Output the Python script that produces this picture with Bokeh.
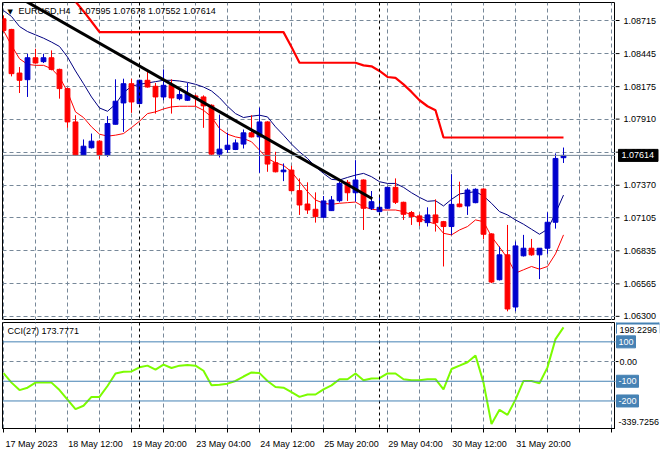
from bokeh.plotting import figure
from bokeh.layouts import column, row
from bokeh.models import (FixedTicker, LinearAxis, Range1d, Span, Label,
                          ColumnDataSource)
from bokeh.core.properties import value
from bokeh.embed import file_html
from bokeh.resources import INLINE

NAN = float("nan")

# ---------------- data ----------------
bars = list(range(71))
opens = [1.08729, 1.08642, 1.08286, 1.08232, 1.08411, 1.08379, 1.08411, 1.08316, 1.08159, 1.07887,
         1.07616, 1.07676, 1.07730, 1.07616, 1.07868, 1.08042, 1.08199, 1.08037, 1.08227, 1.08178,
         1.08091, 1.08186, 1.08077, 1.08064, 1.08099, 1.08091, 1.08023, 1.07624, 1.07662, 1.07662,
         1.07706, 1.07798, 1.07765, 1.07887, 1.07554, 1.07480, 1.07494, 1.07326, 1.07217, 1.07174,
         1.07109, 1.07163, 1.07244, 1.07394, 1.07309, 1.07413, 1.07182, 1.07155, 1.07182, 1.07353,
         1.07231, 1.07147, 1.07120, 1.07065, 1.07128, 1.07073, 1.07033, 1.07217, 1.07201, 1.07228,
         1.07339, 1.06973, 1.06599, 1.06802, 1.06376, 1.06794, 1.06856, 1.06802, 1.06856, 1.07068,
         1.07595]
highs = [1.08756, 1.08647, 1.08335, 1.08444, 1.08484, 1.08444, 1.08471, 1.08322, 1.08167, 1.07942,
         1.07744, 1.07792, 1.07738, 1.07934, 1.08235, 1.08240, 1.08240, 1.08232, 1.08303, 1.08205,
         1.08316, 1.08235, 1.08159, 1.08205, 1.08110, 1.08104, 1.08031, 1.07947, 1.07801, 1.07744,
         1.07825, 1.07942, 1.08004, 1.07893, 1.07643, 1.07548, 1.07529, 1.07426, 1.07394, 1.07312,
         1.07282, 1.07282, 1.07399, 1.07413, 1.07575, 1.07418, 1.07323, 1.07290, 1.07358, 1.07426,
         1.07236, 1.07160, 1.07133, 1.07190, 1.07255, 1.07079, 1.07461, 1.07399, 1.07345, 1.07345,
         1.07345, 1.06978, 1.06870, 1.07046, 1.06911, 1.06965, 1.06932, 1.06856, 1.07149, 1.07630,
         1.07678]
lows = [1.08620, 1.08259, 1.08123, 1.08091, 1.08362, 1.08368, 1.08308, 1.08077, 1.07839, 1.07611,
        1.07611, 1.07670, 1.07581, 1.07602, 1.07866, 1.07806, 1.07961, 1.08031, 1.08167, 1.07955,
        1.08064, 1.07955, 1.08064, 1.08058, 1.08015, 1.07839, 1.07616, 1.07597, 1.07635, 1.07657,
        1.07670, 1.07760, 1.07472, 1.07480, 1.07475, 1.07404, 1.07320, 1.07128, 1.07136, 1.07065,
        1.07100, 1.07160, 1.07231, 1.07242, 1.07236, 1.07005, 1.07168, 1.07149, 1.07177, 1.07217,
        1.07087, 1.07046, 1.07038, 1.07033, 1.06992, 1.06707, 1.06965, 1.07190, 1.07128, 1.07223,
        1.06930, 1.06571, 1.06593, 1.06341, 1.06341, 1.06788, 1.06794, 1.06604, 1.06810, 1.07016,
        1.07552]
closes = [1.08634, 1.08281, 1.08227, 1.08411, 1.08368, 1.08411, 1.08316, 1.08159, 1.07887, 1.07616,
          1.07689, 1.07730, 1.07616, 1.07874, 1.08056, 1.08199, 1.08050, 1.08227, 1.08172, 1.08091,
          1.08186, 1.08083, 1.08110, 1.08118, 1.08085, 1.08018, 1.07624, 1.07665, 1.07697, 1.07716,
          1.07798, 1.07765, 1.07887, 1.07543, 1.07480, 1.07494, 1.07326, 1.07209, 1.07168, 1.07114,
          1.07242, 1.07250, 1.07385, 1.07309, 1.07413, 1.07182, 1.07236, 1.07190, 1.07353, 1.07231,
          1.07133, 1.07114, 1.07073, 1.07128, 1.07065, 1.07033, 1.07214, 1.07195, 1.07331, 1.07337,
          1.06970, 1.06580, 1.06802, 1.06360, 1.06875, 1.06856, 1.06802, 1.06856, 1.07068, 1.07589,
          1.07614]
ma_upper = [1.08796, 1.08748, 1.08666, 1.08625, 1.08598, 1.08571, 1.08539, 1.08503, 1.08417, 1.08303,
            1.08199, 1.08091, 1.08001, 1.07974, 1.08031, 1.08126, 1.08178, 1.08194, 1.08205, 1.08216,
            1.08227, 1.08227, 1.08221, 1.08210, 1.08194, 1.08172, 1.08140, 1.08085, 1.08015, 1.07955,
            1.07923, 1.07934, 1.07942, 1.07928, 1.07847, 1.07779, 1.07706, 1.07643, 1.07589, 1.07521,
            1.07467, 1.07418, 1.07413, 1.07434, 1.07453, 1.07467, 1.07440, 1.07399, 1.07385, 1.07385,
            1.07353, 1.07309, 1.07271, 1.07239, 1.07244, 1.07201, 1.07255, 1.07299, 1.07309, 1.07318,
            1.07282, 1.07223, 1.07155, 1.07128, 1.07087, 1.07052, 1.07011, 1.06970, 1.07011, 1.07141,
            1.07290]
ma_lower = [1.08634, 1.08511, 1.08403, 1.08357, 1.08349, 1.08349, 1.08322, 1.08254, 1.08132, 1.07969,
            1.07923, 1.07847, 1.07787, 1.07771, 1.07779, 1.07792, 1.07841, 1.07893, 1.07955, 1.07969,
            1.07993, 1.08010, 1.08015, 1.08015, 1.08015, 1.07982, 1.07928, 1.07833, 1.07787, 1.07765,
            1.07752, 1.07725, 1.07657, 1.07589, 1.07554, 1.07532, 1.07480, 1.07399, 1.07318, 1.07250,
            1.07223, 1.07214, 1.07223, 1.07228, 1.07233, 1.07195, 1.07174, 1.07168, 1.07168, 1.07168,
            1.07155, 1.07128, 1.07100, 1.07073, 1.07054, 1.06978, 1.06965, 1.07005, 1.07033, 1.07087,
            1.07073, 1.06951, 1.06864, 1.06775, 1.06653, 1.06680, 1.06707, 1.06685, 1.06707, 1.06810,
            1.06965]
stop_line = [NAN, NAN, NAN, NAN, NAN, NAN, NAN, NAN, 1.08959, 1.08870,
             1.08791, 1.08707, 1.08620, 1.08620, 1.08620, 1.08620, 1.08620, 1.08620, 1.08620, 1.08620,
             1.08620, 1.08620, 1.08620, 1.08620, 1.08620, 1.08620, 1.08620, 1.08620, 1.08620, 1.08620,
             1.08620, 1.08620, 1.08620, 1.08620, 1.08620, 1.08620, 1.08498, 1.08370, 1.08370, 1.08370,
             1.08370, 1.08370, 1.08370, 1.08370, 1.08370, 1.08349, 1.08341, 1.08303, 1.08254, 1.08246,
             1.08194, 1.08132, 1.08064, 1.08015, 1.07982, 1.07760, 1.07760, 1.07760, 1.07760, 1.07760,
             1.07760, 1.07760, 1.07760, 1.07760, 1.07760, 1.07760, 1.07760, 1.07760, 1.07760, 1.07760,
             1.07760]
trend_x = [2.0, 46.1]
trend_y = [1.08902, 1.07260]
cci = [-58.6, -106.9, -144.8, -132.7, -106.9, -106.9, -106.9, -144.8, -193.1, -241.4,
       -224.1, -179.3, -179.3, -124.1, -60.3, -51.7, -50.0, -29.3, -20.7, -41.4,
       -15.5, -32.8, -20.7, -17.2, -20.7, -46.5, -120.7, -117.2, -112.1, -98.3,
       -75.9, -55.2, -58.6, -98.3, -129.3, -132.7, -155.2, -179.3, -167.2, -167.2,
       -141.4, -120.7, -89.6, -89.6, -60.3, -94.8, -86.2, -84.5, -60.3, -60.3,
       -89.6, -94.8, -94.8, -89.6, -89.6, -141.4, -37.9, -20.7, -3.4, 31.0,
       -106.9, -317.2, -244.8, -270.7, -193.1, -98.3, -98.3, -110.3, -29.3, 113.8,
       173.7771]
cci_levels = [100, -100, -200]
cci_min, cci_max = -339.7256, 198.2296
price_ticks = [1.08715, 1.08445, 1.08175, 1.07910, 1.07640, 1.07370, 1.07105, 1.06835, 1.06565, 1.06300]
time_tick_bars = [0, 8, 16, 24, 32, 40, 48, 56, 64]
time_tick_labels = ["17 May 2023", "18 May 12:00", "19 May 20:00", "23 May 04:00", "24 May 12:00",
                    "25 May 20:00", "29 May 04:00", "30 May 12:00", "31 May 20:00"]
week_starts = [17, 47]
symbol = "EURUSD,H4"
cci_period = 27

# ---------------- style ----------------
FONT = "Liberation Sans"
FS = "9px"
GRID = "#778899"
BULL = "#0000CD"
BEAR = "#FF0000"
STEEL = "#4682B4"
FRAME_W = 613
STRIP_W = 45
MAIN_H = 318
CCI_H = 106
grid_bars = list(range(0, 80, 4))


def text_w(s):
    # approximate pixel width of a 9px Liberation Sans string
    w = {"-": 3.0, ".": 2.5, " ": 2.5}
    return sum(w.get(ch, 5.0) for ch in s)


xr = Range1d(-0.125, 76.5)


def base_fig(fh, yr, top, bottom):
    f = figure(frame_width=FRAME_W, frame_height=fh, x_range=xr, y_range=yr,
               output_backend="svg", toolbar_location=None, x_axis_location=None,
               y_axis_location=None, min_border_left=2, min_border_top=top,
               min_border_right=0, min_border_bottom=bottom,
               background_fill_color="white", border_fill_color="white",
               outline_line_color="black", outline_line_width=1)
    f.xgrid.ticker = FixedTicker(ticks=grid_bars)
    f.xgrid.grid_line_color = GRID
    f.xgrid.grid_line_dash = "4 3"
    f.ygrid.grid_line_color = GRID
    f.ygrid.grid_line_dash = "4 3"
    for b in week_starts:
        f.add_layout(Span(location=b, dimension="height", line_color="black",
                          line_dash="3 3", line_width=1))
    return f


def strip_fig(fh, yr, top, bottom):
    s = figure(frame_width=STRIP_W, frame_height=fh, x_range=Range1d(0, STRIP_W), y_range=yr,
               output_backend="svg", toolbar_location=None, x_axis_location=None,
               y_axis_location=None, min_border_left=0, min_border_right=0,
               min_border_top=top, min_border_bottom=bottom,
               background_fill_color="white", border_fill_color="white",
               outline_line_color=None)
    s.grid.visible = False
    return s


# ---------------- main price panel ----------------
p = base_fig(MAIN_H, Range1d(1.06266, 1.08862), 2, 0)
p.ygrid.ticker = FixedTicker(ticks=price_ticks)

cols = [BULL if c >= o else BEAR for o, c in zip(opens, closes)]
src = ColumnDataSource(dict(x=bars, o=opens, h=highs, l=lows, c=closes,
                            top=[max(o, c) for o, c in zip(opens, closes)],
                            bot=[min(o, c) for o, c in zip(opens, closes)],
                            col=cols))

p.add_layout(Span(location=closes[-1], dimension="width", line_color=GRID, line_width=1))
p.line(bars, stop_line, line_color="#FF0000", line_width=2.2)
p.line(bars, ma_upper, line_color="#000080", line_width=1)
p.line(bars, ma_lower, line_color="#FF0000", line_width=1)
p.segment(x0="x", y0="l", x1="x", y1="h", source=src, line_color="col", line_width=1)
p.vbar(x="x", top="top", bottom="bot", width=0.6, source=src, fill_color="col", line_color="col")
p.line(trend_x, trend_y, line_color="black", line_width=3)

p.add_layout(Label(x=5, y=309, x_units="screen", y_units="screen", text="\u25bc",
                   text_font="DejaVu Sans", text_font_size="7px", text_baseline="middle",
                   text_color="black"))
p.add_layout(Label(x=16, y=310, x_units="screen", y_units="screen",
                   text=f"{symbol}\u00a0\u00a0 {opens[-1]:.5f} {highs[-1]:.5f} {lows[-1]:.5f} {closes[-1]:.5f}",
                   text_font=FONT, text_font_size=FS, text_baseline="middle",
                   text_color="black"))

# price scale strip (right)
ps = strip_fig(MAIN_H, p.y_range, 2, 0)
ps.segment(x0=0, y0=price_ticks, x1=4, y1=price_ticks, line_color="black", line_width=1)
ps.text(x=8, y=price_ticks, text=[f"{t:.5f}" for t in price_ticks],
        text_font=value(FONT), text_font_size=value(FS), text_baseline="middle",
        text_align="left", text_color="black")
cur_txt = f"{closes[-1]:.5f}"
ps.rect(x=3 + (text_w(cur_txt) + 7) / 2, y=closes[-1], width=text_w(cur_txt) + 7, height=12,
        height_units="screen", fill_color="black", line_color="black")
ps.text(x=6, y=[closes[-1]], text=[cur_txt], text_font=value(FONT), text_font_size=value(FS),
        text_baseline="middle", text_align="left", text_color="white")

# ---------------- CCI panel ----------------
c = base_fig(CCI_H, Range1d(cci_min, cci_max), 2, 22)
c.ygrid.ticker = FixedTicker(ticks=[0])
for lv in cci_levels:
    c.add_layout(Span(location=lv, dimension="width", line_color=STEEL, line_width=1))
c.line(bars, cci, line_color="#7CFC00", line_width=2)

c.add_layout(Label(x=5, y=98, x_units="screen", y_units="screen",
                   text=f"CCI({cci_period}) {cci[-1]:.4f}", text_font=FONT, text_font_size=FS,
                   text_baseline="middle", text_color="black"))

label_pos = [b + 3.5 for b in time_tick_bars]
time_axis = LinearAxis(ticker=FixedTicker(ticks=label_pos, minor_ticks=grid_bars),
                       major_label_overrides={pos: lab for pos, lab in zip(label_pos, time_tick_labels)},
                       axis_line_color="black", major_tick_line_color=None,
                       minor_tick_line_color="black", major_tick_out=0, major_tick_in=0,
                       minor_tick_out=4, minor_tick_in=0,
                       major_label_standoff=6, major_label_text_font=FONT,
                       major_label_text_font_size=FS, major_label_text_color="black")
c.add_layout(time_axis, "below")

# CCI scale strip (right)
units_per_px = (cci_max - cci_min) / CCI_H
cs = strip_fig(CCI_H, c.y_range, 2, 22)
cs.segment(x0=0, y0=[0] + cci_levels, x1=3, y1=[0] + cci_levels, line_color="black", line_width=1)
cur_cci = f"{cci[-1]:.4f}"
cs.rect(x=1 + (text_w(cur_cci) + 5) / 2, y=cci[-1], width=text_w(cur_cci) + 5, height=12,
        height_units="screen", fill_color=STEEL, line_color=STEEL)
top_txt = f"{cci_max:.4f}"
top_y = cci_max - 7.5 * units_per_px
cs.rect(x=2 + (text_w(top_txt) + 4) / 2, y=top_y, width=text_w(top_txt) + 4, height=10,
        height_units="screen", fill_color="white", line_color="white")
cs.text(x=4, y=[top_y], text=[top_txt], text_font=value(FONT),
        text_font_size=value(FS), text_baseline="middle", text_align="left", text_color="black")
cs.text(x=4, y=[0], text=["0.00"], text_font=value(FONT),
        text_font_size=value(FS), text_baseline="middle", text_align="left", text_color="black")
cs.text(x=3, y=[cci_min + 6.5 * units_per_px], text=[f"{cci_min:.4f}"], text_font=value(FONT),
        text_font_size=value(FS), text_baseline="middle", text_align="left", text_color="black")
lv_txt = [str(lv) for lv in cci_levels]
lv_w = [text_w(t) + 4 for t in lv_txt]
cs.rect(x=[1 + w / 2 for w in lv_w], y=cci_levels, width=lv_w, height=12, height_units="screen",
        fill_color=STEEL, line_color=STEEL)
cs.text(x=3, y=cci_levels, text=lv_txt, text_font=value(FONT), text_font_size=value(FS),
        text_baseline="middle", text_align="left", text_color="white")

layout = column(row(p, ps, spacing=0), row(c, cs, spacing=0), spacing=0)
open("out.html", "w").write(file_html(layout, INLINE))
